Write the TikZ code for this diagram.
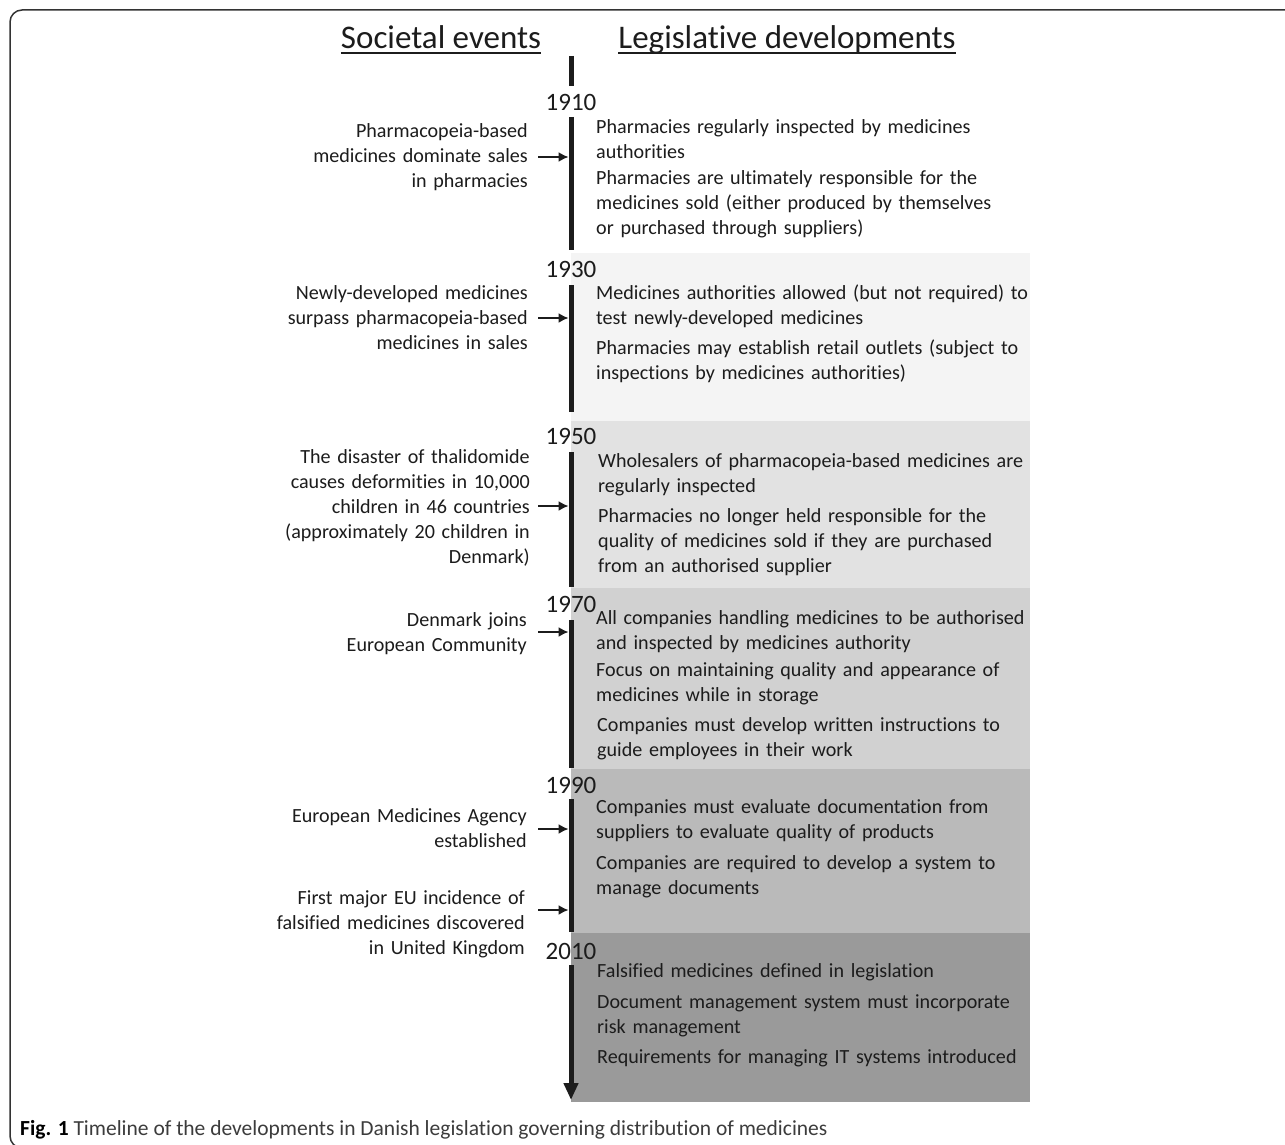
\documentclass[tikz,border=0pt]{standalone}
\usepackage{fontspec}
\setmainfont[Ligatures=NoCommon]{Carlito}
\usetikzlibrary{arrows.meta}
\definecolor{txt}{HTML}{1C1C1C}
\definecolor{capgray}{HTML}{3C3C3C}
\definecolor{frame}{HTML}{333333}
\definecolor{bandA}{HTML}{F4F4F4}
\definecolor{bandB}{HTML}{E2E2E2}
\definecolor{bandC}{HTML}{D1D1D1}
\definecolor{bandD}{HTML}{BABABA}
\definecolor{bandE}{HTML}{9A9A9A}
\tikzset{
  body/.style={font=\fontsize{20.1}{25}\selectfont, text=txt, inner sep=0pt, text width=470pt, align=left, anchor=base west},
  event/.style={font=\fontsize{20.1}{25}\selectfont, text=txt, inner sep=0pt, text width=320pt, align=right, anchor=base east},
  year/.style={font=\fontsize{25}{30}\selectfont, text=txt, inner sep=0pt},
  heading/.style={font=\fontsize{33}{40}\selectfont, text=txt, inner sep=0pt, anchor=base},
  tl/.style={line width=5pt, draw=txt},
  evarrow/.style={line width=1.6pt, draw=txt, -{Latex[length=10pt,width=10pt]}, shorten >=2.5pt},
  uline/.style={line width=1.6pt, draw=txt}
}
\begin{document}
\begin{tikzpicture}[x=1pt,y=-1pt]
\useasboundingbox (0,0) rectangle (1285,1145);
\clip (0,0) rectangle (1285,1145);
\fill[white] (0,0) rectangle (1285,1145);
% frame
\draw[line width=1.5pt, draw=frame, rounded corners=12pt] (10,10) rectangle (1320,1148);

% bands
\fill[bandA] (571,253) rectangle (1030,421);
\fill[bandB] (571,421) rectangle (1030,588);
\fill[bandC] (571,588) rectangle (1030,769);
\fill[bandD] (571,769) rectangle (1030,933);
\fill[bandE] (571,933) rectangle (1030,1102);

% headings
\node[heading] (hsoc) at (441,49) {Societal events};
\node[heading] (hleg) at (787,49) {Legislative developments};
\draw[uline] ([yshift=-4pt]hsoc.base west) -- ([yshift=-4pt]hsoc.base east);
\draw[uline] ([yshift=-4pt]hleg.base west) -- ([yshift=-4pt]hleg.base east);

% years
\node[year] (y1910) at (571,102) {1910};
\node[year] (y1930) at (571,269) {1930};
\node[year] (y1950) at (571,436) {1950};
\node[year] (y1970) at (571,604) {1970};
\node[year] (y1990) at (571,785) {1990};
\node[year] (y2010) at (571,951) {2010};

% timeline coordinates
\coordinate (L) at (571,0);
\coordinate (s0a) at (571,56);   \coordinate (s0b) at (571,86);
\coordinate (s1a) at (571,117);  \coordinate (s1b) at (571,250);
\coordinate (s2a) at (571,285);  \coordinate (s2b) at (571,412);
\coordinate (s3a) at (571,452);  \coordinate (s3b) at (571,587);
\coordinate (s4a) at (571,620);  \coordinate (s4b) at (571,768);
\coordinate (s5a) at (571,799);  \coordinate (s5b) at (571,932);
\coordinate (s6a) at (571,965);  \coordinate (tip) at (571,1100);

\draw[tl] (s0a) -- (s0b);
\draw[tl] (s1a) -- (s1b);
\draw[tl] (s2a) -- (s2b);
\draw[tl] (s3a) -- (s3b);
\draw[tl] (s4a) -- (s4b);
\draw[tl] (s5a) -- (s5b);
\draw[tl, -{Triangle[length=17pt,width=14pt]}] (s6a) -- (tip);

% societal events
\node[event] (e1910) at (528,138) {Pharmacopeia-based\\medicines dominate sales\\in pharmacies};
\node[event] (e1930) at (528,299) {Newly-developed medicines\\surpass pharmacopeia-based\\medicines in sales};
\node[event] (e1950) at (530,463) {The disaster of thalidomide\\causes deformities in 10,000\\children in 46 countries\\(approximately 20 children in\\Denmark)};
\node[event] (e1970) at (527,626) {Denmark joins\\European Community};
\node[event] (e1990a) at (527,822) {European Medicines Agency\\established};
\node[event] (e1990b) at (525,904) {First major EU incidence of\\falsified medicines discovered\\in United Kingdom};

% event arrows
\coordinate (a1910) at (538,157);
\coordinate (a1930) at (538,318);
\coordinate (a1950) at (538,506);
\coordinate (a1970) at (538,632);
\coordinate (a1990a) at (538,829);
\coordinate (a1990b) at (538,910);
\draw[evarrow] (a1910) -- (a1910 -| L);
\draw[evarrow] (a1930) -- (a1930 -| L);
\draw[evarrow] (a1950) -- (a1950 -| L);
\draw[evarrow] (a1970) -- (a1970 -| L);
\draw[evarrow] (a1990a) -- (a1990a -| L);
\draw[evarrow] (a1990b) -- (a1990b -| L);

% legislative developments
\node[body] (r1910a) at (596,134) {Pharmacies regularly inspected by medicines\\authorities};
\node[body] (r1910b) at (596,184) {Pharmacies are ultimately responsible for the\\medicines sold (either produced by themselves\\or purchased through suppliers)};
\node[body] (r1930a) at (596,299) {Medicines authorities allowed (but not required) to\\test newly-developed medicines};
\node[body] (r1930b) at (596,354) {Pharmacies may establish retail outlets (subject to\\inspections by medicines authorities)};
\node[body] (r1950a) at (598,467) {Wholesalers of pharmacopeia-based medicines are\\regularly inspected};
\node[body] (r1950b) at (598,522) {Pharmacies no longer held responsible for the\\quality of medicines sold if they are purchased\\from an authorised supplier};
\node[body] (r1970a) at (596,624) {All companies handling medicines to be authorised\\and inspected by medicines authority};
\node[body] (r1970b) at (596,676) {Focus on maintaining quality and appearance of\\medicines while in storage};
\node[body] (r1970c) at (597,731) {Companies must develop written instructions to\\guide employees in their work};
\node[body] (r1990a) at (596,813) {Companies must evaluate documentation from\\suppliers to evaluate quality of products};
\node[body] (r1990b) at (596,869) {Companies are required to develop a system to\\manage documents};
\node[body] (r2010a) at (597,977) {Falsified medicines defined in legislation};
\node[body] (r2010b) at (597,1008) {Document management system must incorporate\\risk management};
\node[body] (r2010c) at (597,1063) {Requirements for managing IT systems introduced};

% caption
\node[anchor=base west, inner sep=0pt, font=\fontsize{21.5}{26}\selectfont, text=black] (cap) at (20,1135) {\textbf{Fig. 1} \textcolor{capgray}{Timeline of the developments in Danish legislation governing distribution of medicines}};
\end{tikzpicture}
\end{document}
